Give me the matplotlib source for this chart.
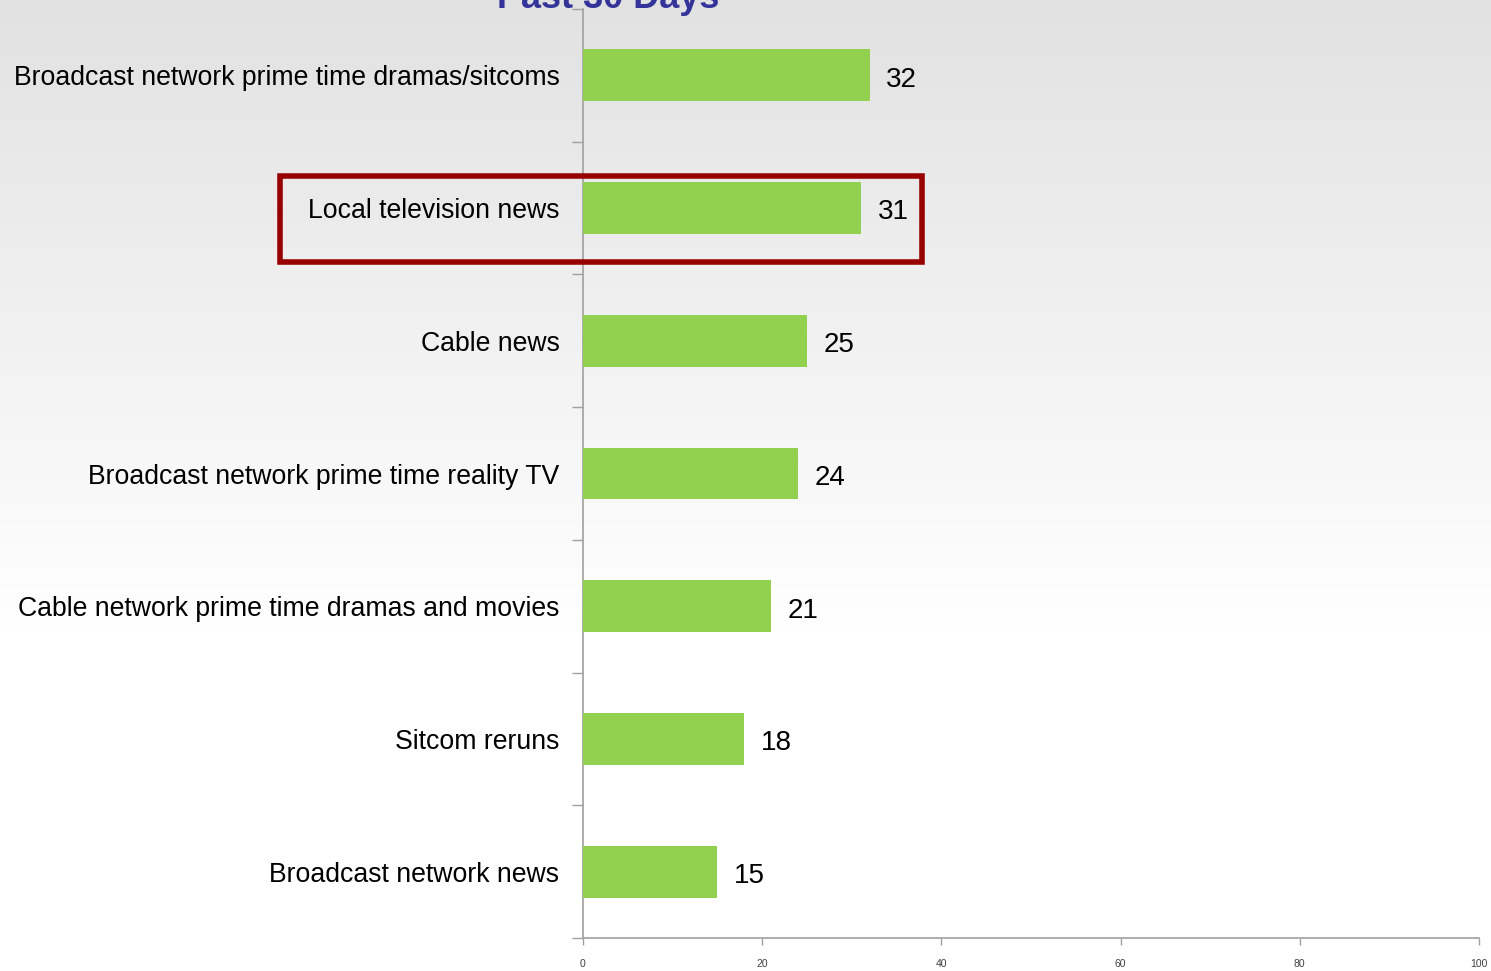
import numpy as np
import matplotlib
matplotlib.use("Agg")
import matplotlib.pyplot as plt
from matplotlib.patches import Rectangle

# datos del grafico (de arriba hacia abajo)
categorias = ["Broadcast network prime time dramas/sitcoms",
              "Local television news",
              "Cable news",
              "Broadcast network prime time reality TV",
              "Cable network prime time dramas and movies",
              "Sitcom reruns",
              "Broadcast network news"]
valores = [32, 31, 25, 24, 21, 18, 15]
xticks = [0, 20, 40, 60, 80, 100]
titulo = "Past 30 Days"

plt.rcParams['font.family'] = ['Liberation Sans', 'DejaVu Sans']

fig = plt.figure(figsize=(14.91, 9.71), dpi=100)

# fondo degradado gris (arriba) -> blanco (abajo)
bg = fig.add_axes([0, 0, 1, 1], zorder=-10)
h = 400
t = np.linspace(0, 1, h)
grad = np.clip(0.885 + 0.115 * t / 0.65, 0, 1)
img = np.tile(grad[:, None, None], (1, 2, 3))
bg.imshow(img, aspect='auto', extent=[0, 1, 0, 1], origin='upper')
bg.axis('off')

ax = fig.add_axes([583/1491, 1 - 938/971, (1479-583)/1491, (938-9)/971])
ax.patch.set_alpha(0)

n = len(categorias)
y = np.arange(n)
ax.barh(y, valores, height=0.39, color='#92d050', zorder=3)
ax.set_ylim(n - 0.5, -0.5)
ax.set_xlim(0, 100)

ax.set_yticks(y)
ax.set_yticklabels(categorias, fontsize=19.2, color='black')
ax.tick_params(axis='y', which='major', length=0, pad=17)
ax.set_yticks(np.arange(n + 1) - 0.5, minor=True)
ax.tick_params(axis='y', which='minor', length=8, color='#a0a0a0', width=1)

ax.set_xticks(xticks)
ax.set_xticklabels([str(v) for v in xticks], fontsize=7.5, color='#404040')
ax.tick_params(axis='x', length=5, color='#a0a0a0', width=1, pad=10)

for s in ['top', 'right']:
    ax.spines[s].set_visible(False)
for s in ['left', 'bottom']:
    ax.spines[s].set_color('#a0a0a0')
    ax.spines[s].set_linewidth(1.2)

for yi, v in zip(y, valores):
    ax.annotate(str(v), (v, yi), xytext=(12, -1), textcoords='offset points',
                va='center_baseline', ha='left', fontsize=20, color='black')

# recuadro rojo alrededor de "Local television news"
fig.patches.append(Rectangle((280/1491, 1 - 262/971), (922-280)/1491, (262-176)/971,
                             transform=fig.transFigure, fill=False,
                             edgecolor='#990000', linewidth=4, zorder=20))

# titulo (cortado arriba como en el original)
fig.text(608/1491, 1 - 8/971, titulo, ha='center', va='baseline',
         fontsize=26, fontweight='bold', color='#333399')

fig.savefig("out.png", dpi=100)
